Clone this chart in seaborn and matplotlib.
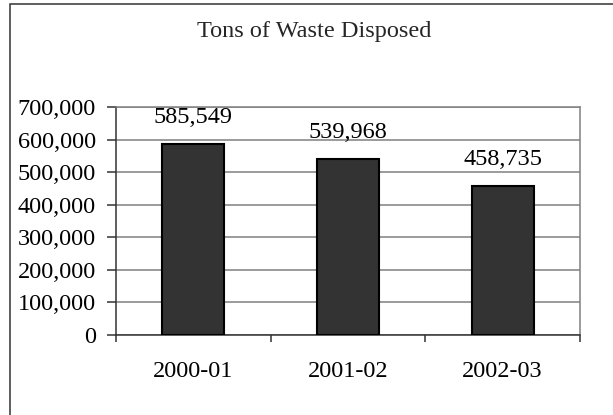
import matplotlib
matplotlib.use("Agg")
import matplotlib.pyplot as plt
import seaborn as sns
import pandas as pd
from matplotlib.ticker import FuncFormatter, FixedLocator
from matplotlib.patches import Rectangle

years = ["2000-01", "2001-02", "2002-03"]
tons = [585549, 539968, 458735]
title = "Tons of Waste Disposed"

sns.set_style("white")
plt.rcParams['font.family'] = ['Liberation Serif', 'DejaVu Serif']
FS = 17.5

W, H = 613, 415
fig = plt.figure(figsize=(W / 100, H / 100), dpi=100)
ax = fig.add_axes([116 / W, 1 - 335 / H, (580 - 116) / W, (335 - 107) / H])

df = pd.DataFrame({"year": years, "tons": tons})
sns.barplot(data=df, x="year", y="tons", ax=ax, color="#333333",
            edgecolor="black", linewidth=1.5, width=0.4, saturation=1, zorder=3)

ax.set_xlim(-0.5, len(years) - 0.5)
ax.set_ylim(0, 700000)
ax.set_yticks(range(0, 700001, 100000))
ax.yaxis.set_major_formatter(FuncFormatter(lambda v, p: f"{v:,.0f}"))
ax.grid(axis="y", color="#808080", linewidth=1.1, zorder=0)
ax.set_axisbelow(True)
ax.set_xlabel("")
ax.set_ylabel("")

for s in ["top", "right"]:
    ax.spines[s].set_color("#808080")
    ax.spines[s].set_linewidth(1.1)
for s in ["left", "bottom"]:
    ax.spines[s].set_color("#333333")
    ax.spines[s].set_linewidth(1.1)

ax.tick_params(axis="y", direction="out", length=6.5, width=1.1, color="#333333",
               pad=8, labelsize=FS, labelcolor="black", left=True)
ax.tick_params(axis="x", which="major", length=0, pad=19, labelsize=FS, labelcolor="black")
ax.xaxis.set_minor_locator(FixedLocator([i - 0.5 for i in range(len(years) + 1)]))
ax.tick_params(axis="x", which="minor", direction="out", length=5, width=1.1,
               color="#333333", bottom=True)

for i, v in enumerate(tons):
    ax.annotate(f"{v:,}", xy=(i, v), xytext=(0, 15), textcoords="offset points",
                ha="center", va="baseline", fontsize=FS, color="black", zorder=5)

fig.text(314 / W, 1 - 37 / H, title, ha="center", va="baseline", fontsize=FS)

fig.add_artist(Rectangle((9.7 / W, -0.1), 2, (1 - 4.5 / H) + 0.1,
                         transform=fig.transFigure, fill=False,
                         edgecolor="#333333", linewidth=1.1))

fig.savefig("out.png", dpi=100)
